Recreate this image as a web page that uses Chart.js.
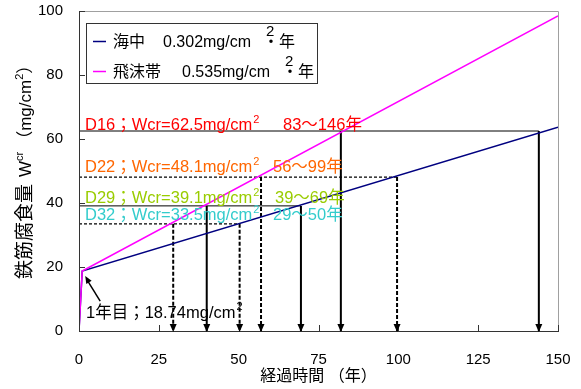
<!DOCTYPE html>
<html><head><meta charset="utf-8">
<script src="https://cdn.jsdelivr.net/npm/chart.js@4.4.0/dist/chart.umd.min.js"></script>
<style>html,body{margin:0;padding:0;background:#fff}#wrap{width:581px;height:389px;position:relative}</style>
</head><body><div id="wrap"><canvas id="c" width="581" height="389"></canvas></div>
<script>
// ---- data ----
const seriesNames = ['海中', '飛沫帯'];
const seriesRates = ['0.302', '0.535'];
const seaX = [0, 1, 150];
const seaY = [0, 18.74, 63.7];
const splashX = [0, 1, 150];
const splashY = [0, 18.74, 98.5];
const limitNames = ['D16', 'D22', 'D29', 'D32'];
const limitWcr = [62.5, 48.1, 39.1, 33.5];
const limitRange = ['83～146年', '56～99年', '39～69年', '29～50年'];
const limitSplashX = [82, 57, 40, 29.5];
const limitSeaX = [144, 99.6, 69.5, 50.3];
const limitDashed = [false, true, false, true];
const firstYearX = 1, firstYearW = 18.74;
const xTicks = [0, 25, 50, 75, 100, 125, 150];
const yTicks = [0, 20, 40, 60, 80, 100];

// ---- styles ----
const FONT = '"Liberation Sans", "Noto Sans CJK JP", sans-serif';
const fnt = s => s + 'px ' + FONT;
const seriesColors = ['#000080', '#ff00ff'];
const annotColors = ['#ff0000', '#ff6600', '#99cc00', '#33cccc'];
const annotBase = [130, 172, 203, 220];
const annotRangeX = [283, 273, 275, 273];

function runs(ctx, x, y, parts) {
  let cx = x;
  for (const p of parts) {
    ctx.font = fnt(p.s);
    if (p.x !== undefined) cx = p.x;
    cx += (p.dx || 0);
    ctx.fillText(p.t, cx, y + (p.dy || 0));
    cx += ctx.measureText(p.t).width;
  }
  return cx;
}

const datasets = [
  { label: seriesNames[0], data: seaX.map((x, i) => ({ x, y: seaY[i] })), borderColor: seriesColors[0], borderWidth: 1.5, showLine: true, pointRadius: 0, order: 0 },
  { label: seriesNames[1], data: splashX.map((x, i) => ({ x, y: splashY[i] })), borderColor: seriesColors[1], borderWidth: 1.5, showLine: true, pointRadius: 0, order: -1 },
];
limitWcr.forEach((w, i) => {
  const d = limitDashed[i];
  datasets.push({ data: [{ x: 0, y: w }, { x: limitSeaX[i], y: w }], borderColor: '#000', borderWidth: d ? 1.3 : 1, borderDash: d ? [3, 2] : [], showLine: true, pointRadius: 0, order: 1 });
  [limitSplashX[i], limitSeaX[i]].forEach(xv => {
    datasets.push({ data: [{ x: xv, y: w }, { x: xv, y: 0 }], borderColor: '#000', borderWidth: 2, borderDash: d ? [4, 2] : [], showLine: true, pointRadius: 0, order: 1, arrow: true });
  });
});

const decor = {
  id: 'decor',
  beforeDatasetsDraw(chart) {
    const { ctx, chartArea: a } = chart;
    ctx.save();
    ctx.strokeStyle = '#a0a0a0'; ctx.lineWidth = 1;
    ctx.beginPath();
    ctx.moveTo(a.left, a.top + 0.5); ctx.lineTo(a.right + 0.5, a.top + 0.5); ctx.lineTo(a.right + 0.5, a.bottom);
    ctx.stroke();
    ctx.restore();
  },
  afterDatasetsDraw(chart) {
    const { ctx, chartArea: a, scales: { x, y } } = chart;
    ctx.save();
    // axes
    ctx.strokeStyle = '#333'; ctx.lineWidth = 1;
    ctx.beginPath();
    ctx.moveTo(a.left + 0.5, a.top); ctx.lineTo(a.left + 0.5, a.bottom + 0.5); ctx.lineTo(a.right + 1, a.bottom + 0.5);
    yTicks.forEach(v => { const py = Math.round(y.getPixelForValue(v)) + 0.5; ctx.moveTo(a.left, py); ctx.lineTo(a.left + 6, py); });
    xTicks.forEach(v => { const px = Math.round(x.getPixelForValue(v)) + 0.5; ctx.moveTo(px, a.bottom); ctx.lineTo(px, a.bottom - 6); });
    ctx.stroke();
    // arrowheads
    ctx.fillStyle = '#000';
    chart.data.datasets.forEach(ds => {
      if (!ds.arrow) return;
      const p = ds.data[1];
      const px = x.getPixelForValue(p.x), py = y.getPixelForValue(p.y);
      ctx.beginPath(); ctx.moveTo(px, py + 1); ctx.lineTo(px - 3.5, py - 7); ctx.lineTo(px + 3.5, py - 7); ctx.closePath(); ctx.fill();
    });
    // annotations
    ctx.textBaseline = 'alphabetic'; ctx.textAlign = 'left';
    limitNames.forEach((n, i) => {
      ctx.fillStyle = annotColors[i];
      runs(ctx, 85, annotBase[i], [
        { t: n + '；Wcr=' + limitWcr[i] + 'mg/cm', s: 16.5 },
        { t: '2', s: 11, dy: -7, dx: 1 },
        { t: limitRange[i], s: 16.5, x: annotRangeX[i] }
      ]);
    });
    // first year annotation
    const fx = x.getPixelForValue(firstYearX), fy = y.getPixelForValue(firstYearW);
    ctx.strokeStyle = '#000'; ctx.fillStyle = '#000'; ctx.lineWidth = 1.5;
    const tx = fx + 3, ty = fy + 5, sx = fx + 18, sy = fy + 30;
    ctx.beginPath(); ctx.moveTo(sx, sy); ctx.lineTo(tx + 2, ty + 4); ctx.stroke();
    const ang = Math.atan2(ty - sy, tx - sx);
    ctx.beginPath(); ctx.moveTo(tx, ty);
    ctx.lineTo(tx - 8 * Math.cos(ang - 0.4), ty - 8 * Math.sin(ang - 0.4));
    ctx.lineTo(tx - 8 * Math.cos(ang + 0.4), ty - 8 * Math.sin(ang + 0.4));
    ctx.closePath(); ctx.fill();
    runs(ctx, 86, 318, [
      { t: firstYearX + '年目；' + firstYearW + 'mg/cm', s: 16.5 },
      { t: '2', s: 11, dy: -8, dx: 1 }
    ]);
    // legend
    ctx.fillStyle = '#fff'; ctx.strokeStyle = '#333'; ctx.lineWidth = 1;
    ctx.fillRect(86, 23, 231, 60); ctx.strokeRect(86.5, 23.5, 231, 60);
    const rows = [47, 77];
    const rateX = [163, 182];
    seriesNames.forEach((n, i) => {
      ctx.strokeStyle = seriesColors[i]; ctx.lineWidth = 1.5;
      ctx.beginPath(); ctx.moveTo(93, rows[i] - 5.5); ctx.lineTo(106, rows[i] - 5.5); ctx.stroke();
      ctx.fillStyle = '#000';
      const e = runs(ctx, 113, rows[i], [
        { t: n, s: 16 },
        { t: seriesRates[i] + 'mg/cm', s: 16, x: rateX[i] }
      ]);
      runs(ctx, e + 13, rows[i], [{ t: '2', s: 15, dy: -11, dx: 2 }]);
      runs(ctx, e + 12, rows[i], [{ t: '・年', s: 16 }]);
    });
    // y title
    ctx.save();
    ctx.translate(0, 279); ctx.rotate(-Math.PI / 2);
    ctx.fillStyle = '#000';
    runs(ctx, 0, 31, [
      { t: '鉄筋腐食量', s: 19 },
      { t: 'W', s: 17, dx: 7 },
      { t: 'cr', s: 11, dy: -8 },
      { t: '（mg/cm', s: 17, dx: 4 },
      { t: '2', s: 11, dy: -8 },
      { t: '）', s: 17 }
    ]);
    ctx.restore();
    ctx.restore();
  }
};

new Chart(document.getElementById('c'), {
  type: 'scatter',
  data: { datasets },
  options: {
    responsive: false, animation: false,
    layout: { padding: { left: 0, right: 23, top: 11, bottom: 0 } },
    plugins: { legend: { display: false }, tooltip: { enabled: false } },
    scales: {
      x: {
        type: 'linear', min: 0, max: 150,
        afterBuildTicks: s => { s.ticks = xTicks.map(v => ({ value: v })); },
        afterFit: s => { s.height = 58; s.paddingLeft = 0; s.paddingRight = 0; },
        grid: { display: false, drawTicks: false }, border: { display: false },
        ticks: { padding: 20, color: '#000', font: { size: 15, family: FONT } },
        title: { display: true, text: '経過時間 （年）', color: '#000', font: { size: 16, family: FONT }, padding: { top: 0, bottom: 3 } }
      },
      y: {
        type: 'linear', min: 0, max: 100,
        afterBuildTicks: s => { s.ticks = yTicks.map(v => ({ value: v })); },
        afterFit: s => { s.width = 79; s.paddingTop = 0; s.paddingBottom = 0; },
        grid: { display: false, drawTicks: false }, border: { display: false },
        ticks: { padding: 16, color: '#000', font: { size: 15, family: FONT } }
      }
    }
  },
  plugins: [decor]
});
</script>
</body></html>
